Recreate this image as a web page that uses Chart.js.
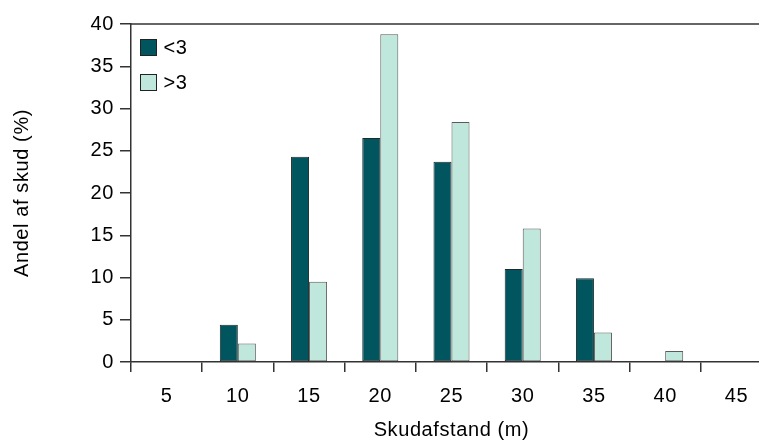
<!DOCTYPE html>
<html>
<head>
<meta charset="utf-8">
<script src="https://cdn.jsdelivr.net/npm/chart.js@4/dist/chart.umd.min.js"></script>
<style>
  html, body { margin: 0; padding: 0; overflow: hidden; background: #fff; }
  #wrap { position: relative; width: 775px; height: 442px; }
</style>
</head>
<body>
<div id="wrap"><canvas id="c"></canvas></div>
<script>
// ---- data ----
const categories = ['5', '10', '15', '20', '25', '30', '35', '40', '45'];
const seriesUnder3 = [0, 4.4, 24.3, 26.5, 23.7, 11.0, 9.9, 0, 0];
const seriesOver3 = [0, 2.2, 9.5, 38.8, 28.4, 15.8, 3.5, 1.3, 0];
const seriesLabels = ['<3', '>3'];
const yTicks = [0, 5, 10, 15, 20, 25, 30, 35, 40];
const xTitle = 'Skudafstand (m)';
const yTitle = 'Andel af skud (%)';

const FONT = { family: '"Liberation Sans", Arial, Helvetica, sans-serif', size: 20 };
const AXIS = '#333333';
const SPACING = '0.6px';

Chart.defaults.font.family = FONT.family;
Chart.defaults.color = '#000';

const spacingPlugin = {
  id: 'spacing',
  beforeDraw(chart) { try { chart.ctx.letterSpacing = SPACING; } catch (e) {} }
};

const topFrame = {
  id: 'topFrame',
  afterDraw(chart) {
    const { ctx, chartArea } = chart;
    ctx.save();
    ctx.strokeStyle = AXIS;
    ctx.lineWidth = 1.5;
    ctx.beginPath();
    ctx.moveTo(chartArea.left, chartArea.top);
    ctx.lineTo(chartArea.right, chartArea.top);
    ctx.stroke();
    ctx.restore();
  }
};

const insideLegend = {
  id: 'insideLegend',
  afterDraw(chart) {
    const { ctx, chartArea } = chart;
    ctx.save();
    try { ctx.letterSpacing = SPACING; } catch (e) {}
    ctx.font = FONT.size + 'px ' + FONT.family;
    ctx.textBaseline = 'middle';
    ctx.textAlign = 'left';
    chart.data.datasets.forEach((ds, i) => {
      const x = chartArea.left + 9.5;
      const y = chartArea.top + 15.5 + i * 35;
      ctx.fillStyle = ds.backgroundColor;
      ctx.fillRect(x, y, 16, 16);
      ctx.strokeStyle = '#222';
      ctx.lineWidth = 1;
      ctx.strokeRect(x, y, 16, 16);
      ctx.fillStyle = '#000';
      ctx.fillText(ds.label, x + 23, y + 9);
    });
    ctx.restore();
  }
};

new Chart(document.getElementById('c'), {
  type: 'bar',
  data: {
    labels: categories,
    datasets: [
      { label: seriesLabels[0], data: seriesUnder3, backgroundColor: '#00555f',
        borderColor: '#1f2a2a', borderWidth: 1, borderSkipped: false },
      { label: seriesLabels[1], data: seriesOver3, backgroundColor: '#c0e7dc',
        borderColor: '#5a5a5a', borderWidth: 1, borderSkipped: false }
    ]
  },
  options: {
    responsive: true,
    maintainAspectRatio: false,
    animation: false,
    devicePixelRatio: 1,
    layout: { padding: { top: 24, right: 3, left: 0, bottom: 0 } },
    datasets: { bar: { categoryPercentage: 0.506, barPercentage: 1.0 } },
    plugins: {
      legend: { display: false },
      tooltip: { enabled: false }
    },
    scales: {
      x: {
        offset: true,
        afterFit(scale) { scale.height = 80; },
        grid: { drawOnChartArea: false, offset: true, tickLength: 10, color: AXIS, lineWidth: 1.5 },
        border: { display: true, color: AXIS, width: 1.5 },
        ticks: { autoSkip: false, maxRotation: 0, padding: 12, color: '#000', font: FONT },
        title: { display: true, text: xTitle, color: '#000', font: FONT, padding: { top: 0, bottom: 0 } }
      },
      y: {
        min: 0,
        max: 40,
        afterFit(scale) { scale.width = 131; },
        afterBuildTicks(scale) { scale.ticks = yTicks.map(v => ({ value: v })); },
        grid: { drawOnChartArea: false, tickLength: 11, color: AXIS, lineWidth: 1.5 },
        border: { display: true, color: AXIS, width: 1.5 },
        ticks: { padding: 6, color: '#000', font: FONT },
        title: { display: true, text: yTitle, color: '#000', font: FONT, padding: { top: 10, bottom: 0 } }
      }
    }
  },
  plugins: [spacingPlugin, topFrame, insideLegend]
});
</script>
</body>
</html>
